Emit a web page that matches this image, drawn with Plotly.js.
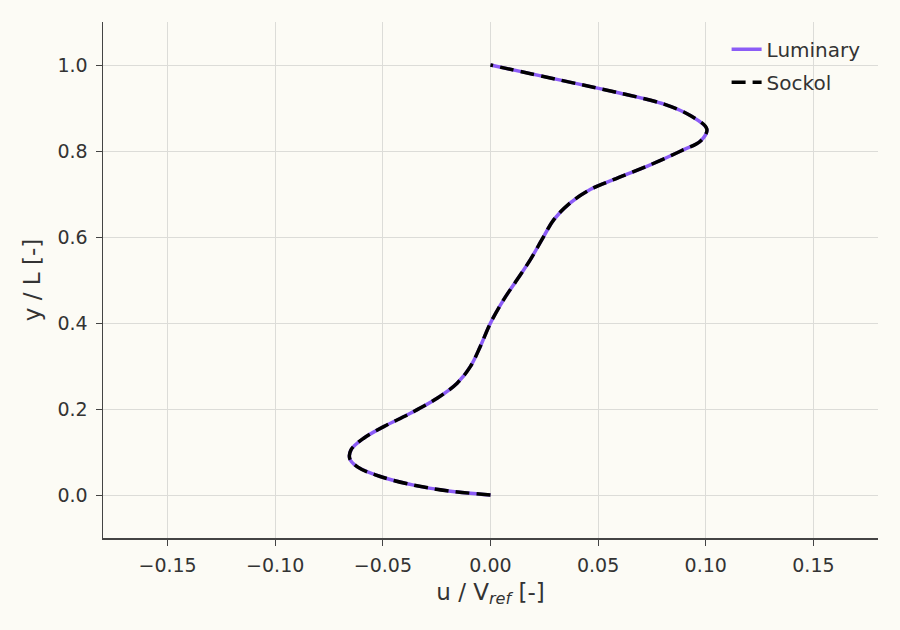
<!DOCTYPE html>
<html>
<head>
<meta charset="utf-8">
<script src="https://cdn.plot.ly/plotly-3.0.1.min.js"></script>
<style>
  html, body { margin: 0; padding: 0; background: #fcfbf5; }
  #graph { width: 900px; height: 630px; }
</style>
</head>
<body>
<div id="graph"></div>
<script>
// velocity profile u/Vref along y/L
var yL = [0.0, 0.010, 0.023, 0.043, 0.066, 0.085, 0.105, 0.132, 0.159, 0.190, 0.225,
          0.260, 0.299, 0.346, 0.400, 0.455, 0.501, 0.548, 0.602, 0.641, 0.680,
          0.711, 0.734, 0.765, 0.800, 0.824, 0.851, 0.882, 0.909, 0.936, 0.963, 1.0];
var uLuminary = [0.0, -0.0202, -0.0357, -0.0512, -0.0620, -0.0654, -0.0648, -0.0589, -0.0496, -0.0372, -0.0248,
                 -0.0155, -0.0093, -0.0047, 0.0, 0.0062, 0.0124, 0.0186, 0.0248, 0.0295, 0.0372,
                 0.0465, 0.0574, 0.0729, 0.0884, 0.0977, 0.1005, 0.0930, 0.0806, 0.0589, 0.0341, 0.0];
var uSockol = [0.0, -0.0202, -0.0357, -0.0512, -0.0620, -0.0654, -0.0648, -0.0589, -0.0496, -0.0372, -0.0248,
               -0.0155, -0.0093, -0.0047, 0.0, 0.0062, 0.0124, 0.0186, 0.0248, 0.0295, 0.0372,
               0.0465, 0.0574, 0.0729, 0.0884, 0.0977, 0.1005, 0.0930, 0.0806, 0.0589, 0.0341, 0.0];

var xTicks = [-0.15, -0.10, -0.05, 0.00, 0.05, 0.10, 0.15];
var xTickText = ['\u22120.15', '\u22120.10', '\u22120.05', '0.00', '0.05', '0.10', '0.15'];
var yTicks = [0.0, 0.2, 0.4, 0.6, 0.8, 1.0];
var yTickText = ['0.0', '0.2', '0.4', '0.6', '0.8', '1.0'];

var trace1 = {
  x: uLuminary, y: yL,
  mode: 'lines', type: 'scatter', name: 'Luminary', legendgroup: 'a',
  line: { color: '#8b5cf6', width: 3.5, shape: 'spline', smoothing: 1 }
};
var trace2 = {
  x: uSockol, y: yL,
  mode: 'lines', type: 'scatter', name: 'Sockol', legendgroup: 'b',
  line: { color: '#000000', width: 3.5, dash: '14px,7px', shape: 'spline', smoothing: 1 }
};

var layout = {
  width: 900, height: 630,
  paper_bgcolor: '#fcfbf5', plot_bgcolor: '#fcfbf5',
  font: { family: 'DejaVu Sans', color: '#333333', size: 19 },
  margin: { l: 103, r: 22, t: 22, b: 92 },
  showlegend: true,
  legend: { x: 0.984, y: 0.985, xanchor: 'right', yanchor: 'top', bgcolor: 'rgba(0,0,0,0)',
            traceorder: 'grouped', tracegroupgap: 4,
            font: { size: 20, color: '#333333' } },
  xaxis: {
    range: [-0.18, 0.18], tickvals: xTicks, ticktext: xTickText,
    tickfont: { size: 19 },
    showgrid: true, gridcolor: '#dcdcd8', gridwidth: 1, zeroline: false,
    showline: true, linecolor: '#444444', linewidth: 1.5,
    ticks: 'outside', ticklen: 6, tickcolor: '#444444', ticklabelstandoff: 4,
    title: { text: 'u / V<sub><i>ref</i></sub> [-]', font: { size: 23 }, standoff: 8 }
  },
  yaxis: {
    range: [-0.1, 1.1], tickvals: yTicks, ticktext: yTickText,
    tickfont: { size: 19 },
    showgrid: true, gridcolor: '#dcdcd8', gridwidth: 1, zeroline: false,
    showline: true, linecolor: '#444444', linewidth: 1.5,
    ticks: 'outside', ticklen: 6, tickcolor: '#444444', ticklabelstandoff: 4,
    title: { text: 'y / L [-]', font: { size: 23 }, standoff: 10 }
  }
};

Plotly.newPlot('graph', [trace1, trace2], layout, { staticPlot: true });
</script>
</body>
</html>
